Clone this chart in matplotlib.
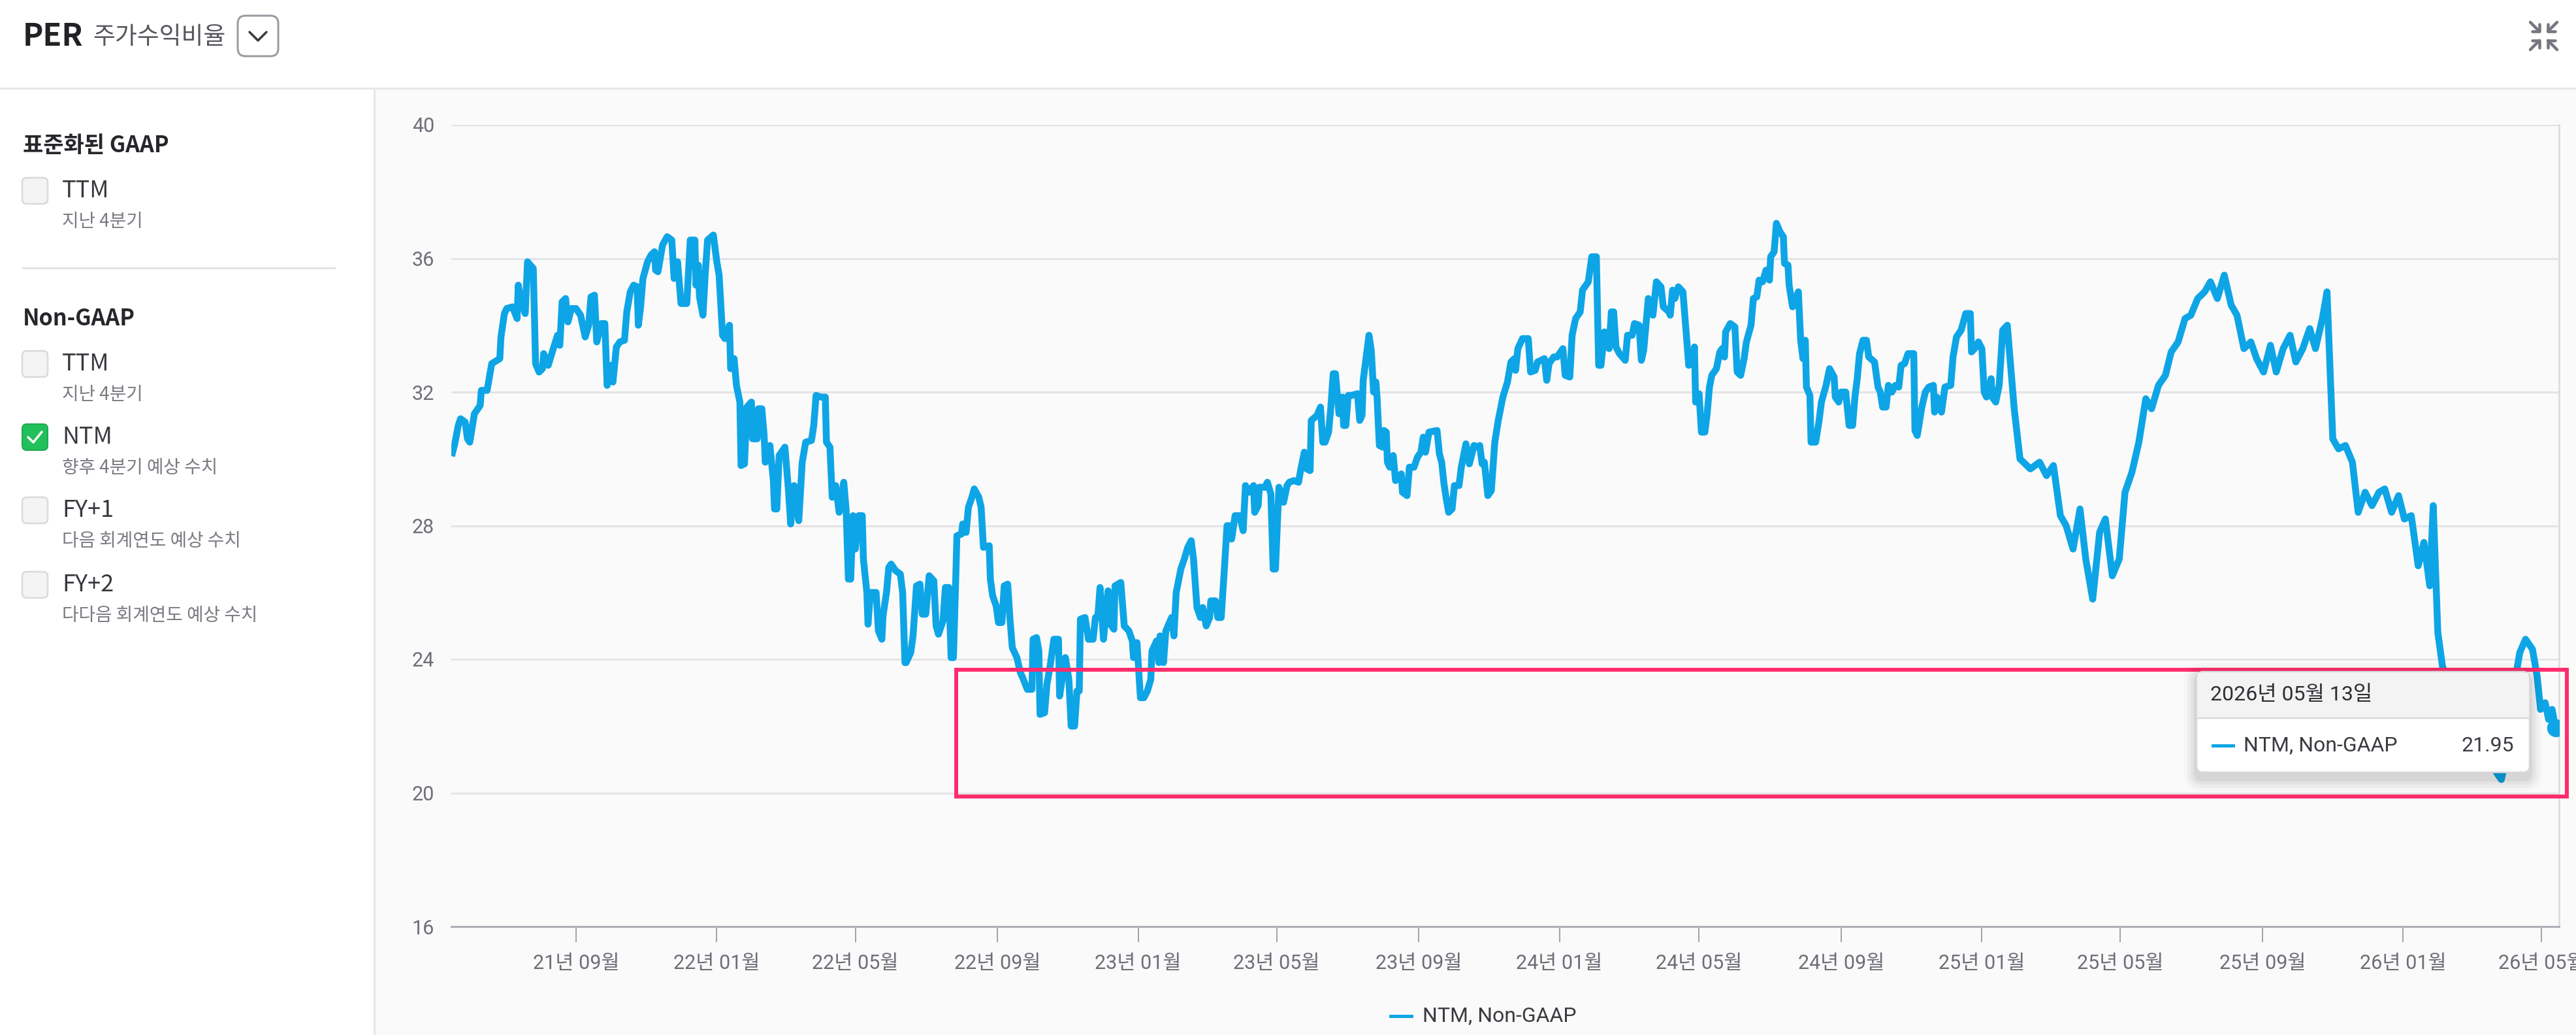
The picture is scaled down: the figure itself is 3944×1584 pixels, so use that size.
import numpy as np
import matplotlib
matplotlib.use("Agg")
import matplotlib.pyplot as plt
import matplotlib.dates as mdates
from matplotlib.patches import Rectangle, FancyBboxPatch
from matplotlib.lines import Line2D

# === canvas, in screen pixels ===
W, H = 3944, 1584
KR = ['Noto Sans CJK KR', 'DejaVu Sans']
RB = ['Roboto', 'Noto Sans CJK KR', 'DejaVu Sans']
plt.rcParams['font.family'] = KR

# === data: NTM Non-GAAP PER (days after start) ===
start = np.datetime64('2021-05-13')

days = [
    4, 6, 9, 11, 15, 17, 19, 23, 28, 29, 34, 38, 45, 46, 49, 51, 56, 60, 61, 63,
    67, 69, 74, 76, 79, 82, 83, 87, 90, 95, 97, 99, 102, 104, 107, 111, 115, 119, 122, 124,
    127, 129, 133, 136, 138, 141, 143, 146, 149, 153, 155, 158, 161, 164, 165, 167, 169, 173, 176, 179,
    180, 182, 186, 190, 194, 196, 199, 202, 207, 210, 214, 215, 217, 218, 221, 223, 225, 230, 233, 235,
    238, 240, 244, 245, 248, 250, 253, 254, 257,
    # 2022
    259, 263, 264, 268, 269, 272, 274, 275, 279, 282, 283, 285, 287, 292, 295, 297, 300, 304, 307, 310,
    315, 317, 319, 323, 327, 328, 331, 333, 336, 339, 343, 345, 347, 349, 351, 353, 356, 359, 360, 363,
    364, 366, 371, 373, 376, 377, 380, 382, 384, 388, 392, 394, 396, 397, 401, 403, 406, 409, 411, 414,
    417, 421, 423, 425, 429, 431, 434, 436, 438, 440, 441, 445, 446, 449, 451, 454, 456, 460, 462, 464,
    469, 470, 472, 475, 477, 480, 482, 485, 487, 489, 493, 496, 498, 502, 506, 507, 510, 512, 513, 517,
    519, 522, 525, 529, 530,
    # 2022 H2 - 2023
    535, 538, 540, 543, 545, 547, 548, 552, 555, 559, 561, 563, 565, 568, 572, 573, 577, 578, 583, 586,
    590, 593, 594, 597, 600, 603, 606, 609, 610, 614, 616, 617, 620, 622, 627, 629, 631, 635, 638, 641,
    644, 646, 649, 652, 654, 657, 660, 661, 665, 667, 670, 673, 675, 677, 679, 682, 686, 689, 691, 694,
    698, 699, 702, 703, 708, 710, 713, 715, 717, 720, 724, 727, 729, 733, 737, 739, 742, 744, 747, 748,
    753, 756, 758, 760, 763, 765, 767, 769, 772, 775, 776, 778, 780, 783, 788, 790, 792, 793,
    # 2023 - 2024
    798, 800, 802, 804, 805, 807, 810, 811, 813, 814, 816, 819, 821, 826, 827, 831, 833, 837, 840, 843,
    845, 847, 850, 857, 859, 861, 863, 865, 867, 870, 872, 876, 878, 882, 885, 889, 892, 894, 896, 898,
    901, 904, 907, 910, 914, 918, 921, 924, 925, 927, 931, 936, 938, 942, 944, 950, 952, 954, 958, 961,
    966, 968, 972, 974, 977, 981, 983, 988, 991, 995, 997, 999, 1002, 1006, 1008, 1010, 1012, 1015, 1020, 1022,
    1026, 1028, 1032, 1034, 1036, 1040, 1044, 1047, 1051, 1053, 1058, 1059, 1061, 1063, 1066, 1070, 1073, 1075,
    # 2024 - 2025
    1077, 1080, 1081, 1084, 1086, 1089, 1091, 1093, 1095, 1099, 1102, 1104, 1106, 1107, 1111, 1115, 1117, 1120, 1123, 1125,
    1129, 1131, 1134, 1136, 1139, 1142, 1145, 1146, 1149, 1151, 1154, 1157, 1158, 1161, 1162, 1165, 1170, 1172, 1174, 1176,
    1177, 1180, 1181, 1185, 1188, 1190, 1194, 1197, 1201, 1202, 1205, 1207, 1211, 1214, 1217, 1219, 1221, 1223, 1226, 1229,
    1231, 1236, 1239, 1241, 1243, 1246, 1248, 1251, 1254, 1257, 1259, 1262, 1265, 1270, 1271, 1273, 1277, 1280, 1283, 1287,
    1288, 1290, 1294, 1297, 1302, 1304, 1307, 1311, 1315, 1319, 1320, 1324, 1326, 1329, 1331, 1333, 1337, 1338, 1341, 1344,
    1347,
    # 2025 - 2026
    1351, 1357, 1362, 1371, 1379, 1385, 1391, 1397, 1402, 1408, 1414, 1419, 1425, 1431, 1436, 1442, 1448, 1453, 1459, 1465,
    1471, 1476, 1482, 1488, 1493, 1499, 1505, 1510, 1516, 1522, 1527, 1533, 1539, 1545, 1550, 1556, 1562, 1567, 1573, 1579,
    1584, 1590, 1596, 1601, 1607, 1613, 1618, 1624, 1628, 1633, 1638, 1644, 1650, 1655, 1661, 1667, 1673, 1678, 1684, 1690,
    1695, 1701, 1707, 1712, 1717, 1720, 1724, 1728, 1732, 1741, 1748, 1758, 1766, 1775, 1779, 1783, 1789, 1795, 1800, 1806,
    1810, 1813, 1817, 1820, 1823, 1826,
]

per = [
    30.18, 30.45, 31.0, 31.2, 31.1, 30.6, 30.5, 31.35, 31.6, 32.05, 32.05, 32.85, 33.0, 33.65, 34.35, 34.5, 34.55, 34.2, 35.2, 34.8,
    34.35, 35.9, 35.7, 32.85, 32.6, 32.7, 33.15, 32.8, 33.15, 33.7, 33.4, 34.7, 34.8, 34.1, 34.5, 34.5, 34.3, 33.65, 34.0, 34.85,
    34.9, 33.5, 34.05, 34.05, 32.2, 32.8, 32.3, 33.35, 33.5, 33.55, 34.4, 35.0, 35.2, 35.15, 34.0, 34.55, 35.4, 35.9, 36.1, 36.2,
    35.65, 35.6, 36.4, 36.65, 36.55, 35.4, 35.9, 34.65, 34.65, 36.55, 36.55, 35.2, 35.8, 34.85, 34.3, 35.55, 36.55, 36.7, 35.9, 35.5,
    33.7, 33.6, 34.0, 32.7, 33.0, 32.2, 31.7, 29.8, 29.85,
    # 2022
    31.55, 31.7, 30.6, 30.6, 31.5, 31.5, 30.7, 29.9, 30.4, 29.35, 28.5, 28.5, 30.1, 30.35, 29.1, 28.05, 29.2, 28.15, 29.9, 30.5,
    30.55, 31.0, 31.9, 31.85, 31.85, 30.5, 30.35, 28.85, 29.2, 28.4, 29.3, 28.5, 26.4, 26.4, 28.3, 27.3, 28.3, 28.3, 27.0, 26.0,
    25.05, 26.0, 26.0, 24.85, 24.6, 25.3, 26.0, 26.75, 26.85, 26.65, 26.55, 26.0, 23.9, 23.9, 24.2, 24.7, 26.2, 26.25, 25.35, 25.35,
    26.5, 26.35, 25.0, 24.75, 25.15, 26.15, 26.15, 24.05, 24.05, 26.4, 27.7, 27.75, 28.05, 27.8, 28.55, 28.85, 29.1, 28.85, 28.55, 27.35,
    27.4, 26.4, 25.9, 25.6, 25.1, 25.1, 26.2, 26.25, 25.2, 24.35, 24.05, 23.6, 23.45, 23.1, 23.1, 24.6, 24.65, 24.25, 22.35, 22.4,
    23.25, 23.85, 24.6, 24.6, 22.9,
    # 2022 H2 - 2023
    24.05, 23.4, 22.0, 22.0, 23.05, 23.05, 25.2, 25.25, 24.6, 24.6, 25.25, 25.25, 26.15, 24.6, 26.05, 25.1, 24.9, 26.2, 26.3, 25.0,
    24.85, 24.55, 24.05, 24.5, 22.85, 22.85, 23.05, 23.4, 24.25, 24.55, 23.9, 24.7, 23.9, 24.85, 25.25, 24.7, 26.0, 26.7, 27.0, 27.35,
    27.55, 27.0, 25.55, 25.25, 25.55, 25.0, 25.25, 25.75, 25.75, 25.25, 25.25, 26.85, 28.0, 28.0, 27.6, 28.3, 28.3, 27.85, 29.2, 29.0,
    29.2, 28.4, 28.6, 29.15, 29.15, 29.3, 28.95, 26.7, 26.7, 29.15, 28.7, 29.2, 29.3, 29.35, 29.3, 29.7, 30.2, 29.7, 29.65, 31.15,
    31.3, 31.55, 30.5, 30.5, 30.8, 31.55, 32.55, 32.55, 31.35, 31.85, 31.0, 31.0, 31.9, 31.9, 31.95, 31.15, 31.3, 32.35,
    # 2023 - 2024
    33.7, 33.25, 32.0, 32.3, 31.85, 30.4, 30.35, 30.85, 30.8, 29.9, 29.75, 30.1, 29.35, 29.55, 29.0, 28.9, 29.75, 29.75, 30.05, 30.2,
    30.65, 30.2, 30.8, 30.85, 30.15, 29.9, 29.25, 28.8, 28.4, 28.5, 29.2, 29.2, 29.75, 30.45, 29.85, 30.4, 30.35, 30.4, 29.85, 29.9,
    28.9, 29.05, 30.5, 31.15, 31.85, 32.3, 32.9, 33.0, 32.65, 33.3, 33.6, 33.6, 32.6, 32.65, 32.9, 33.0, 32.35, 32.85, 33.05, 33.05,
    33.3, 32.5, 32.45, 33.7, 34.2, 34.4, 35.05, 35.3, 36.05, 36.05, 32.8, 32.8, 33.8, 33.3, 34.4, 34.4, 33.35, 33.15, 32.95, 33.7,
    33.7, 34.05, 34.0, 32.95, 33.25, 34.8, 34.3, 35.3, 35.15, 34.55, 34.4, 34.3, 35.05, 34.8, 35.15, 35.0, 33.7, 32.8,
    # 2024 - 2025
    32.85, 33.35, 31.7, 31.95, 30.8, 30.8, 31.35, 32.15, 32.5, 32.7, 33.2, 33.3, 33.05, 33.8, 34.05, 33.95, 32.6, 32.5, 33.0, 33.5,
    34.0, 34.8, 34.85, 35.35, 35.3, 35.65, 35.35, 36.05, 36.2, 37.05, 36.8, 36.65, 35.85, 35.8, 35.2, 34.55, 35.0, 33.55, 33.0, 33.55,
    32.15, 31.9, 30.5, 30.5, 31.15, 31.7, 32.2, 32.7, 32.45, 31.85, 31.7, 32.0, 32.0, 31.0, 31.0, 31.85, 32.4, 33.15, 33.55, 33.55,
    33.05, 32.9, 32.15, 32.0, 31.55, 31.55, 32.2, 32.0, 32.2, 32.15, 32.8, 32.85, 33.15, 33.15, 30.85, 30.7, 31.55, 32.0, 32.15, 32.2,
    31.4, 31.85, 31.4, 32.15, 32.2, 33.05, 33.65, 33.85, 34.35, 34.35, 33.2, 33.35, 33.5, 33.3, 32.0, 31.85, 32.4, 31.85, 31.7, 32.2,
    33.85,
    # 2025 - 2026
    34.0, 31.5, 30.0, 29.7, 29.9, 29.5, 29.8, 28.3, 28.0, 27.3, 28.5, 27.0, 25.8, 27.8, 28.2, 26.5, 27.0, 29.0, 29.6, 30.5,
    31.8, 31.5, 32.2, 32.5, 33.2, 33.5, 34.2, 34.3, 34.8, 35.0, 35.3, 34.8, 35.5, 34.6, 34.3, 33.3, 33.5, 33.0, 32.6, 33.4,
    32.6, 33.3, 33.7, 32.9, 33.3, 33.9, 33.3, 34.2, 35.0, 30.6, 30.3, 30.4, 29.9, 28.4, 29.0, 28.6, 29.0, 29.1, 28.4, 28.9,
    28.2, 28.3, 26.8, 27.5, 26.2, 28.6, 24.8, 23.8, 23.3, 22.8, 22.3, 21.8, 21.2, 20.6, 20.4, 21.0, 23.0, 24.2, 24.6, 24.3,
    23.5, 22.5, 22.7, 22.2, 22.5, 21.95,
]

yticks = [16, 20, 24, 28, 32, 36, 40]
series_name = 'NTM, Non-GAAP'
tip_date = '2026년 05월 13일'
tip_value = '21.95'

menu_groups = ['표준화된 GAAP', 'Non-GAAP']
menu_items = [
    (0, 'TTM', '지난 4분기', False),
    (1, 'TTM', '지난 4분기', False),
    (1, 'NTM', '향후 4분기 예상 수치', True),
    (1, 'FY+1', '다음 회계연도 예상 수치', False),
    (1, 'FY+2', '다다음 회계연도 예상 수치', False),
]

# === colours ===
BLUE = '#0ea5e6'
GRAY_TXT = '#6e6e78'
RED = '#ff2d6d'


def fx(x):
    return x / W


def fy(y):
    return 1 - y / H


def pt(px):
    return px * 0.72


fig = plt.figure(figsize=(W / 100, H / 100), dpi=100)
fig.patch.set_facecolor('white')
tf = fig.transFigure


def box(x0, y0, x1, y1, **kw):
    r = Rectangle((fx(x0), fy(y1)), (x1 - x0) / W, (y1 - y0) / H, transform=tf, **kw)
    fig.add_artist(r)
    return r


def rbox(x0, y0, x1, y1, rad, **kw):
    r = FancyBboxPatch((fx(x0), fy(y1)), (x1 - x0) / W, (y1 - y0) / H,
                       boxstyle=f"round,pad=0,rounding_size={rad / W}",
                       transform=tf, mutation_aspect=W / H, **kw)
    fig.add_artist(r)
    return r


def seg(xs, ys, **kw):
    fig.add_artist(Line2D([fx(v) for v in xs], [fy(v) for v in ys], transform=tf, **kw))


# === backgrounds ===
box(573, 135, W, H, facecolor='#fafafa', edgecolor='none', zorder=-2)
seg([0, W], [135, 135], color='#e6e6e9', lw=pt(3), zorder=-1)
seg([573, 573], [135, H], color='#e6e6e9', lw=pt(3), zorder=-1)

# === header ===
fig.text(fx(35), fy(56), 'PER', fontsize=34, fontweight='bold', color='#222226',
         va='center', ha='left', family=KR)
fig.text(fx(142), fy(56), '주가수익비율', fontsize=26.5, color='#55555c',
         va='center', ha='left', family=KR)
rbox(364, 24, 426, 86, 12, facecolor='white', edgecolor='#9a9aa2', lw=pt(3))
seg([382, 395, 408], [49, 62, 49], color='#3a3a40', lw=pt(3.5), solid_capstyle='round')

# collapse icon (four arrows pointing inward)
ic = dict(color='#76767f', lw=pt(4.5), solid_capstyle='round', solid_joinstyle='round')
seg([3874, 3888], [34, 48], **ic)
seg([3888, 3888, 3877], [37, 48, 48], **ic)
seg([3915, 3901], [34, 48], **ic)
seg([3901, 3901, 3912], [37, 48, 48], **ic)
seg([3874, 3888], [76, 62], **ic)
seg([3877, 3888, 3888], [62, 62, 73], **ic)
seg([3915, 3901], [76, 62], **ic)
seg([3912, 3901, 3901], [62, 62, 73], **ic)

# === left menu ===
group_y = [222, 487]
item_y = [292, 557, 669, 781, 895]
for g, gy in zip(menu_groups, group_y):
    fig.text(fx(35), fy(gy), g, fontsize=24.5, fontweight='bold', color='#26262b',
             va='center', ha='left', family=KR)
seg([35, 512], [410, 410], color='#e4e4e8', lw=pt(3))
for (grp, name, sub, on), iy in zip(menu_items, item_y):
    if on:
        rbox(34, iy - 20, 73, iy + 20, 7, facecolor='#22c05a', edgecolor='#1eaa50', lw=pt(2))
        seg([43, 51, 64], [iy, iy + 8, iy - 8], color='white', lw=pt(3.5),
            solid_capstyle='round', solid_joinstyle='round')
    else:
        rbox(34, iy - 20, 73, iy + 20, 7, facecolor='#f4f4f5', edgecolor='#d9d9de', lw=pt(2.5))
    fig.text(fx(95), fy(iy), name, fontsize=26, color='#38383e', va='center', ha='left', family=KR)
    fig.text(fx(95), fy(iy + 47), sub, fontsize=20, color='#7a7a82', va='center', ha='left', family=KR)

# === chart ===
ax = fig.add_axes([fx(691), fy(1418), (3918 - 691) / W, (1418 - 191) / H])
ax.set_facecolor('#fafafa')
dates = start + np.array(days).astype('timedelta64[D]')
ax.plot(dates, per, color=BLUE, lw=pt(10.5), solid_joinstyle='round', zorder=3)
ax.plot(dates[-1:], per[-1:], 'o', color=BLUE, ms=pt(26), zorder=4)

ax.set_ylim(16, 40)
ax.set_yticks(yticks)
ax.set_xlim(start + np.timedelta64(3, 'D'), start + np.timedelta64(1829, 'D'))
ax.xaxis.set_major_locator(mdates.MonthLocator(bymonth=[1, 5, 9]))
ax.xaxis.set_major_formatter(plt.FuncFormatter(
    lambda v, p: mdates.num2date(v).strftime('%y년 %m월')))
ax.grid(axis='y', color='#e4e4e7', lw=pt(3))
ax.set_axisbelow(True)
for s in ['top', 'left']:
    ax.spines[s].set_visible(False)
ax.spines['right'].set_color('#dedee3')
ax.spines['right'].set_linewidth(pt(3))
ax.spines['bottom'].set_color('#aeaeb6')
ax.spines['bottom'].set_linewidth(pt(3))
ax.spines['bottom'].set_zorder(5)
ax.tick_params(axis='y', length=0, pad=pt(26), labelsize=22, labelcolor=GRAY_TXT)
ax.tick_params(axis='x', length=pt(24), width=pt(2), color='#a4a4ad', pad=pt(18),
               labelsize=22, labelcolor=GRAY_TXT)
for lab in ax.get_xticklabels() + ax.get_yticklabels():
    lab.set_family(RB)

# === bottom legend ===
seg([2129, 2161], [1555, 1555], color=BLUE, lw=pt(5))
fig.text(fx(2178), fy(1555), series_name, fontsize=23, color='#3a3a40',
         va='center', ha='left', family=RB)

# === highlight frame ===
box(1464, 1025, 3930, 1219, facecolor='none', edgecolor=RED, lw=pt(6), zorder=6)

# === tooltip ===
for k, a in enumerate([0.05, 0.04, 0.03, 0.02]):
    g = 4 + k * 5
    rbox(3363 - g, 1028 - g + 6, 3873 + g, 1182 + g + 10, 10 + g,
         facecolor='black', edgecolor='none', alpha=a, zorder=7)
rbox(3363, 1028, 3873, 1182, 10, facecolor='white', edgecolor='#d8d8dc', lw=pt(2.5), zorder=8)
box(3365, 1030, 3871, 1099, facecolor='#f3f3f4', edgecolor='none', zorder=8)
seg([3364, 3872], [1099, 1099], color='#d8d8dc', lw=pt(2.5), zorder=9)
fig.text(fx(3384), fy(1064), tip_date, fontsize=23, color='#2e2e33',
         va='center', ha='left', family=RB, zorder=10)
seg([3388, 3419], [1141, 1141], color=BLUE, lw=pt(5), zorder=10)
fig.text(fx(3435), fy(1141), series_name, fontsize=23, color='#3a3a40',
         va='center', ha='left', family=RB, zorder=10)
fig.text(fx(3849), fy(1141), tip_value, fontsize=23, color='#3a3a40',
         va='center', ha='right', family=RB, zorder=10)

fig.savefig('out.png', dpi=100, facecolor='white')
